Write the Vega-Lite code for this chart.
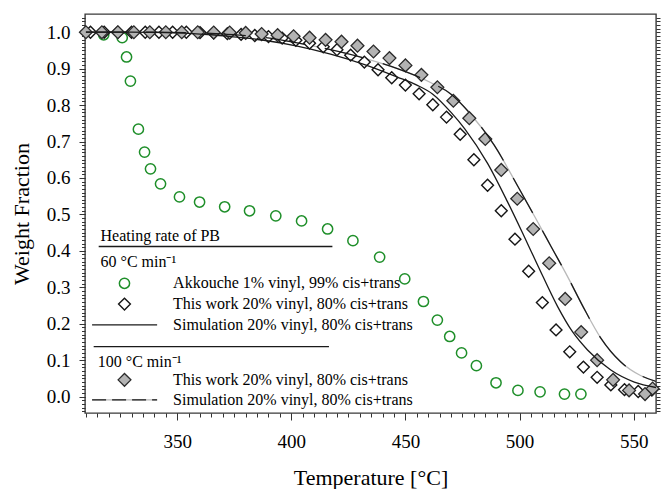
{
  "$schema": "https://vega.github.io/schema/vega-lite/v6.json",
  "width": 571,
  "height": 399,
  "autosize": "none",
  "padding": {"left": 85, "top": 14, "right": 5, "bottom": 76},
  "background": "white",
  "config": {
    "view": {"stroke": "#3a3a3a", "strokeWidth": 1.4},
    "font": "Liberation Serif",
    "axis": {
      "labelFont": "Liberation Serif",
      "titleFont": "Liberation Serif",
      "labelFontSize": 19,
      "titleFontSize": 22,
      "titleFontWeight": "normal",
      "labelColor": "black",
      "titleColor": "black",
      "tickColor": "#333",
      "tickWidth": 1,
      "domain": false,
      "grid": false,
      "labelOverlap": false,
      "labelFlush": false
    }
  },
  "datasets": {
    "akk": [
      {"x": 317.8, "y": 0.993}, {"x": 325.9, "y": 0.985}, {"x": 327.8, "y": 0.932}, {"x": 329.5, "y": 0.866},
      {"x": 333.0, "y": 0.734}, {"x": 335.7, "y": 0.671}, {"x": 338.3, "y": 0.625}, {"x": 342.7, "y": 0.584},
      {"x": 351.0, "y": 0.548}, {"x": 359.8, "y": 0.534}, {"x": 370.8, "y": 0.521}, {"x": 381.7, "y": 0.510},
      {"x": 393.2, "y": 0.496}, {"x": 404.5, "y": 0.482}, {"x": 415.9, "y": 0.460}, {"x": 427.0, "y": 0.428},
      {"x": 438.7, "y": 0.383}, {"x": 449.7, "y": 0.323}, {"x": 457.9, "y": 0.261}, {"x": 464.0, "y": 0.210},
      {"x": 469.4, "y": 0.165}, {"x": 474.6, "y": 0.120}, {"x": 481.1, "y": 0.085}, {"x": 489.7, "y": 0.038},
      {"x": 499.3, "y": 0.017}, {"x": 509.0, "y": 0.013}, {"x": 519.7, "y": 0.007}, {"x": 526.9, "y": 0.007}
    ],
    "w60": [
      {"x": 312, "y": 1.0}, {"x": 318, "y": 1.0}, {"x": 324, "y": 1.0}, {"x": 330, "y": 1.0},
      {"x": 336, "y": 1.0}, {"x": 342, "y": 1.0}, {"x": 348, "y": 1.0}, {"x": 354, "y": 1.0},
      {"x": 360, "y": 0.999}, {"x": 366, "y": 0.998}, {"x": 372, "y": 0.996}, {"x": 378, "y": 0.994},
      {"x": 384, "y": 0.991}, {"x": 390, "y": 0.988}, {"x": 396, "y": 0.984}, {"x": 402, "y": 0.978},
      {"x": 408, "y": 0.970}, {"x": 414, "y": 0.960}, {"x": 420, "y": 0.952}, {"x": 426, "y": 0.937},
      {"x": 432, "y": 0.918}, {"x": 438, "y": 0.897}, {"x": 444, "y": 0.875}, {"x": 450, "y": 0.855},
      {"x": 456, "y": 0.831}, {"x": 462, "y": 0.801}, {"x": 468, "y": 0.767}, {"x": 474, "y": 0.720},
      {"x": 480, "y": 0.650}, {"x": 486, "y": 0.580}, {"x": 492, "y": 0.510}, {"x": 498, "y": 0.432},
      {"x": 504, "y": 0.344}, {"x": 510, "y": 0.258}, {"x": 516, "y": 0.183}, {"x": 522, "y": 0.123},
      {"x": 528, "y": 0.081}, {"x": 534, "y": 0.053}, {"x": 540, "y": 0.032}, {"x": 546, "y": 0.019},
      {"x": 552, "y": 0.014}, {"x": 558, "y": 0.018}
    ],
    "w100": [
      {"x": 310, "y": 1.0}, {"x": 317, "y": 1.0}, {"x": 324, "y": 1.0}, {"x": 331, "y": 1.0},
      {"x": 338, "y": 1.0}, {"x": 345, "y": 1.0}, {"x": 352, "y": 1.0}, {"x": 359, "y": 1.0},
      {"x": 366, "y": 0.999}, {"x": 373, "y": 0.999}, {"x": 380, "y": 0.998}, {"x": 387, "y": 0.995},
      {"x": 394, "y": 0.992}, {"x": 401, "y": 0.989}, {"x": 408, "y": 0.985}, {"x": 415, "y": 0.979},
      {"x": 422, "y": 0.974}, {"x": 429, "y": 0.963}, {"x": 436, "y": 0.947}, {"x": 443, "y": 0.929},
      {"x": 450, "y": 0.909}, {"x": 457, "y": 0.883}, {"x": 464, "y": 0.849}, {"x": 471, "y": 0.812},
      {"x": 478, "y": 0.764}, {"x": 485, "y": 0.707}, {"x": 492, "y": 0.622}, {"x": 499, "y": 0.543},
      {"x": 506, "y": 0.460}, {"x": 513, "y": 0.366}, {"x": 520, "y": 0.268}, {"x": 527, "y": 0.177},
      {"x": 534, "y": 0.100}, {"x": 541, "y": 0.046}, {"x": 548, "y": 0.017}, {"x": 555, "y": 0.007},
      {"x": 558.3, "y": 0.022}
    ],
    "s60": [
      {"x": 310, "y": 1.0}, {"x": 330, "y": 1.0}, {"x": 345, "y": 0.999}, {"x": 355, "y": 0.997},
      {"x": 365, "y": 0.993}, {"x": 373.5, "y": 0.988}, {"x": 388, "y": 0.978}, {"x": 402.6, "y": 0.962},
      {"x": 417.2, "y": 0.940}, {"x": 431.8, "y": 0.912}, {"x": 446.5, "y": 0.877}, {"x": 455, "y": 0.855},
      {"x": 462, "y": 0.830}, {"x": 470, "y": 0.780}, {"x": 476, "y": 0.735}, {"x": 486, "y": 0.640},
      {"x": 494.7, "y": 0.535}, {"x": 502, "y": 0.440}, {"x": 508, "y": 0.360}, {"x": 516.7, "y": 0.247},
      {"x": 523.2, "y": 0.178}, {"x": 529.8, "y": 0.128}, {"x": 540, "y": 0.073}, {"x": 550.3, "y": 0.040},
      {"x": 559.8, "y": 0.025}
    ],
    "s100": [
      {"x": 310, "y": 1.0}, {"x": 340, "y": 1.0}, {"x": 355, "y": 0.999}, {"x": 365, "y": 0.997},
      {"x": 375, "y": 0.993}, {"x": 388, "y": 0.986}, {"x": 402.6, "y": 0.971}, {"x": 417.2, "y": 0.952},
      {"x": 431.8, "y": 0.929}, {"x": 446.5, "y": 0.900}, {"x": 461, "y": 0.862}, {"x": 470, "y": 0.830},
      {"x": 478.6, "y": 0.775}, {"x": 488.9, "y": 0.690}, {"x": 499, "y": 0.580}, {"x": 507, "y": 0.490},
      {"x": 514, "y": 0.410}, {"x": 521, "y": 0.330}, {"x": 528, "y": 0.245}, {"x": 535.7, "y": 0.160},
      {"x": 544.4, "y": 0.095}, {"x": 553, "y": 0.058}, {"x": 559.8, "y": 0.042}
    ],
    "legendSymbols": [
      {"kind": "akk", "x": 326.9, "y": 0.311},
      {"kind": "w60", "x": 326.9, "y": 0.254},
      {"kind": "w100", "x": 326.9, "y": 0.046}
    ],
    "legendRules": [
      {"kind": "frame", "x": 315.6, "x2": 418.0, "y": 0.412},
      {"kind": "frame", "x": 313.4, "x2": 416.5, "y": 0.137},
      {"kind": "solid", "x": 312.7, "x2": 341.2, "y": 0.197},
      {"kind": "dashed", "x": 312.7, "x2": 341.2, "y": -0.009}
    ],
    "legendText": [
      {"x": 316.4, "y": 0.441, "label": "Heating rate of PB"},
      {"x": 316.4, "y": 0.370, "label": "60 °C min⁻¹"},
      {"x": 348.2, "y": 0.311, "label": "Akkouche 1% vinyl, 99% cis+trans"},
      {"x": 348.2, "y": 0.254, "label": "This work 20% vinyl, 80% cis+trans"},
      {"x": 348.2, "y": 0.197, "label": "Simulation 20% vinyl, 80% cis+trans"},
      {"x": 315.2, "y": 0.096, "label": "100 °C min⁻¹"},
      {"x": 348.2, "y": 0.046, "label": "This work 20% vinyl, 80% cis+trans"},
      {"x": 348.2, "y": -0.009, "label": "Simulation 20% vinyl, 80% cis+trans"}
    ]
  },
  "encoding": {
    "x": {"field": "x", "type": "quantitative", "scale": {"domain": [309.6, 559.8], "nice": false, "zero": false}, "axis": null},
    "y": {"field": "y", "type": "quantitative", "scale": {"domain": [-0.045, 1.05], "nice": false, "zero": false}, "axis": null}
  },
  "layer": [
    {
      "data": {"name": "s100"},
      "mark": {"type": "line", "color": "#b9b9b9", "strokeWidth": 1.3, "interpolate": "monotone"}
    },
    {
      "data": {"name": "legendRules"},
      "transform": [{"filter": "datum.kind === 'dashed'"}],
      "mark": {"type": "rule", "color": "#b9b9b9", "strokeWidth": 1.3},
      "encoding": {"x2": {"field": "x2"}}
    },
    {
      "data": {"name": "akk"},
      "mark": {"type": "point", "shape": "circle", "filled": false, "stroke": "#1f8f2a", "strokeWidth": 1.5, "size": 105, "opacity": 1},
      "encoding": {
        "x": {"field": "x", "type": "quantitative", "scale": {"domain": [309.6, 559.8], "nice": false, "zero": false},
          "axis": {"orient": "bottom", "values": [350, 400, 450, 500, 550], "tickSize": 7, "labelPadding": 12, "title": "Temperature [°C]", "titlePadding": 16, "format": "d"}},
        "y": {"field": "y", "type": "quantitative", "scale": {"domain": [-0.045, 1.05], "nice": false, "zero": false},
          "axis": {"orient": "left", "values": [0, 0.1, 0.2, 0.3, 0.4, 0.5, 0.6, 0.7, 0.8, 0.9, 1.0], "tickSize": 6, "labelPadding": 9, "format": ".1f", "title": "Weight Fraction", "titlePadding": 13}}
      }
    },
    {
      "data": {"name": "w60"},
      "mark": {"type": "point", "shape": "diamond", "filled": true, "fill": "white", "stroke": "#151515", "strokeWidth": 1.4, "size": 140, "opacity": 1},
      "encoding": {
        "x": {"field": "x", "type": "quantitative", "scale": {"domain": [309.6, 559.8], "nice": false, "zero": false},
          "axis": {"orient": "bottom", "values": [310, 315, 320, 325, 330, 335, 340, 345, 350, 355, 360, 365, 370, 375, 380, 385, 390, 395, 400, 405, 410, 415, 420, 425, 430, 435, 440, 445, 450, 455, 460, 465, 470, 475, 480, 485, 490, 495, 500, 505, 510, 515, 520, 525, 530, 535, 540, 545, 550, 555], "tickSize": 4, "labels": false, "title": null}},
        "y": {"field": "y", "type": "quantitative", "scale": {"domain": [-0.045, 1.05], "nice": false, "zero": false},
          "axis": {"orient": "left", "values": [-0.04, -0.03, -0.02, -0.01, 0, 0.01, 0.02, 0.03, 0.04, 0.05, 0.06, 0.07, 0.08, 0.09, 0.1, 0.11, 0.12, 0.13, 0.14, 0.15, 0.16, 0.17, 0.18, 0.19, 0.2, 0.21, 0.22, 0.23, 0.24, 0.25, 0.26, 0.27, 0.28, 0.29, 0.3, 0.31, 0.32, 0.33, 0.34, 0.35, 0.36, 0.37, 0.38, 0.39, 0.4, 0.41, 0.42, 0.43, 0.44, 0.45, 0.46, 0.47, 0.48, 0.49, 0.5, 0.51, 0.52, 0.53, 0.54, 0.55, 0.56, 0.57, 0.58, 0.59, 0.6, 0.61, 0.62, 0.63, 0.64, 0.65, 0.66, 0.67, 0.68, 0.69, 0.7, 0.71, 0.72, 0.73, 0.74, 0.75, 0.76, 0.77, 0.78, 0.79, 0.8, 0.81, 0.82, 0.83, 0.84, 0.85, 0.86, 0.87, 0.88, 0.89, 0.9, 0.91, 0.92, 0.93, 0.94, 0.95, 0.96, 0.97, 0.98, 0.99, 1.0, 1.01, 1.02, 1.03, 1.04], "tickSize": 3.5, "labels": false, "title": null}}
      }
    },
    {
      "data": {"name": "w100"},
      "mark": {"type": "point", "shape": "diamond", "filled": true, "fill": "#b3b3b3", "stroke": "#2a2a2a", "strokeWidth": 1.3, "size": 165, "opacity": 1},
      "encoding": {
        "y": {"field": "y", "type": "quantitative", "scale": {"domain": [-0.045, 1.05], "nice": false, "zero": false},
          "axis": {"orient": "right", "values": [-0.04, -0.03, -0.02, -0.01, 0, 0.01, 0.02, 0.03, 0.04, 0.05, 0.06, 0.07, 0.08, 0.09, 0.1, 0.11, 0.12, 0.13, 0.14, 0.15, 0.16, 0.17, 0.18, 0.19, 0.2, 0.21, 0.22, 0.23, 0.24, 0.25, 0.26, 0.27, 0.28, 0.29, 0.3, 0.31, 0.32, 0.33, 0.34, 0.35, 0.36, 0.37, 0.38, 0.39, 0.4, 0.41, 0.42, 0.43, 0.44, 0.45, 0.46, 0.47, 0.48, 0.49, 0.5, 0.51, 0.52, 0.53, 0.54, 0.55, 0.56, 0.57, 0.58, 0.59, 0.6, 0.61, 0.62, 0.63, 0.64, 0.65, 0.66, 0.67, 0.68, 0.69, 0.7, 0.71, 0.72, 0.73, 0.74, 0.75, 0.76, 0.77, 0.78, 0.79, 0.8, 0.81, 0.82, 0.83, 0.84, 0.85, 0.86, 0.87, 0.88, 0.89, 0.9, 0.91, 0.92, 0.93, 0.94, 0.95, 0.96, 0.97, 0.98, 0.99, 1.0, 1.01, 1.02, 1.03, 1.04], "tickSize": 4, "labels": false, "title": null}}
      }
    },
    {
      "data": {"name": "legendSymbols"},
      "transform": [{"filter": "datum.kind === 'akk'"}],
      "mark": {"type": "point", "shape": "circle", "filled": false, "stroke": "#1f8f2a", "strokeWidth": 1.5, "size": 105, "opacity": 1}
    },
    {
      "data": {"name": "legendSymbols"},
      "transform": [{"filter": "datum.kind === 'w60'"}],
      "mark": {"type": "point", "shape": "diamond", "filled": true, "fill": "white", "stroke": "#151515", "strokeWidth": 1.4, "size": 140, "opacity": 1}
    },
    {
      "data": {"name": "legendSymbols"},
      "transform": [{"filter": "datum.kind === 'w100'"}],
      "mark": {"type": "point", "shape": "diamond", "filled": true, "fill": "#b3b3b3", "stroke": "#2a2a2a", "strokeWidth": 1.3, "size": 165, "opacity": 1}
    },
    {
      "data": {"name": "s60"},
      "mark": {"type": "line", "color": "#1a1a1a", "strokeWidth": 1.3, "interpolate": "monotone"}
    },
    {
      "data": {"name": "s100"},
      "mark": {"type": "line", "color": "#1a1a1a", "strokeWidth": 1.3, "interpolate": "monotone", "strokeDash": [40, 20]}
    },
    {
      "data": {"name": "legendRules"},
      "transform": [{"filter": "datum.kind !== 'dashed'"}],
      "mark": {"type": "rule", "color": "#1a1a1a", "strokeWidth": 1.3},
      "encoding": {"x2": {"field": "x2"}}
    },
    {
      "data": {"name": "legendRules"},
      "transform": [{"filter": "datum.kind === 'dashed'"}],
      "mark": {"type": "rule", "color": "#1a1a1a", "strokeWidth": 1.3, "strokeDash": [14, 6]},
      "encoding": {"x2": {"field": "x2"}}
    },
    {
      "data": {"name": "legendText"},
      "mark": {"type": "text", "align": "left", "baseline": "middle", "font": "Liberation Serif", "fontSize": 16, "color": "black"},
      "encoding": {"text": {"field": "label"}}
    }
  ],
  "resolve": {"axis": {"x": "independent", "y": "independent"}}
}
